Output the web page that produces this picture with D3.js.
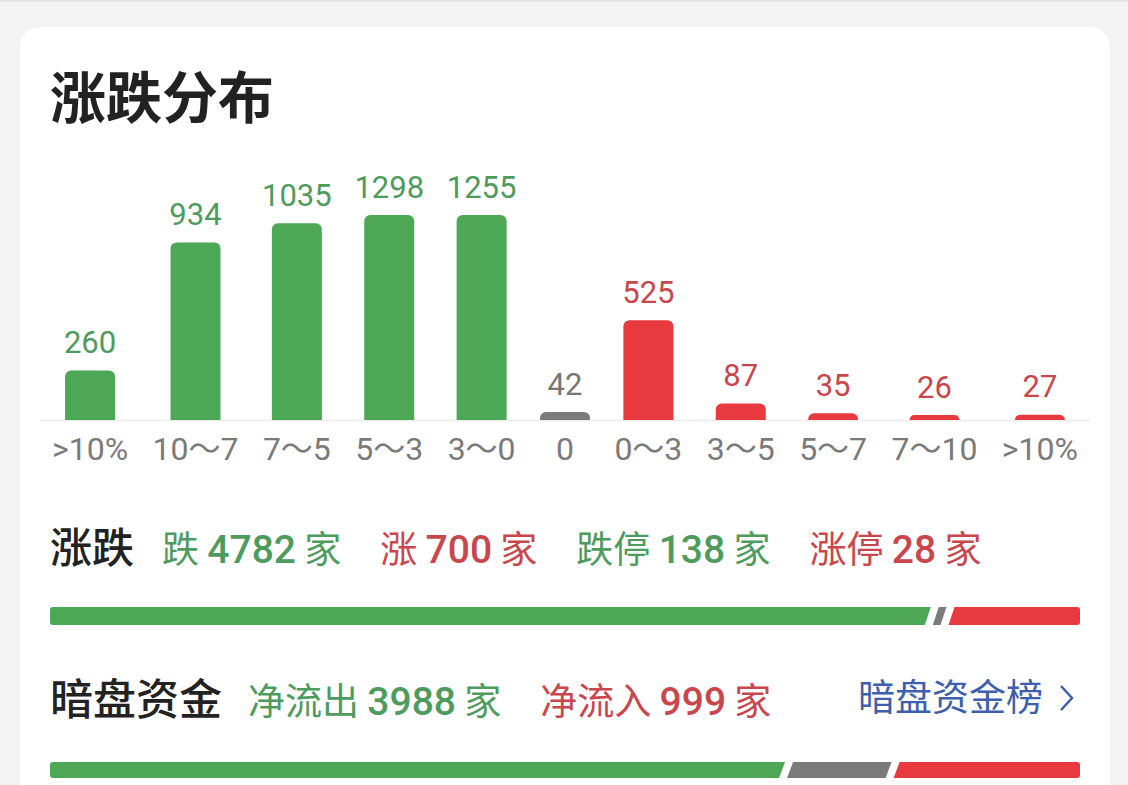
<!DOCTYPE html>
<html><head><meta charset="utf-8">
<script src="https://cdn.jsdelivr.net/npm/d3@7"></script>
<style>html,body{margin:0;padding:0;background:#f3f3f3;} svg{display:block;} text{white-space:pre;}</style>
</head><body>
<svg id="chart" width="1128" height="785"></svg>
<script>
// ---------------- data ----------------
const categories = [">10%", "10～7", "7～5", "5～3", "3～0", "0", "0～3", "3～5", "5～7", "7～10", ">10%"];
const counts = [260, 934, 1035, 1298, 1255, 42, 525, 87, 35, 26, 27];
const trend = ["down", "down", "down", "down", "down", "flat", "up", "up", "up", "up", "up"];

const breadthLabels = ["跌", "涨", "跌停", "涨停"];
const breadthValues = [4782, 700, 138, 28];
const breadthTrend = ["down", "up", "down", "up"];
const breadthBarValues = [4782, 42, 700];
const breadthBarTrend = ["down", "flat", "up"];

const darkPoolLabels = ["净流出", "净流入"];
const darkPoolValues = [3988, 999];
const darkPoolTrend = ["down", "up"];
const darkPoolBarValues = [3988, 537, 999];
const darkPoolBarTrend = ["down", "flat", "up"];

const titleText = "涨跌分布";
const rowTitles = ["涨跌", "暗盘资金"];
const linkText = "暗盘资金榜";
const unitText = "家";

// ---------------- style ----------------
const barColor = {down: "#4da855", flat: "#7b7b7b", up: "#e8393f"};
const textColor = {down: "#4e9b5e", flat: "#777777", up: "#c9464c"};
const FONT = "Roboto, 'Noto Sans CJK SC', sans-serif";
const CJK = "'Noto Sans CJK SC', sans-serif";

const svg = d3.select("#chart");

// background + card
svg.append("rect").attr("x", 0).attr("y", 0).attr("width", 1128).attr("height", 785).attr("fill", "#f3f3f3");
svg.append("rect").attr("x", 0).attr("y", 0).attr("width", 1128).attr("height", 2).attr("fill", "#e2e2e2");
svg.append("rect").attr("x", 20).attr("y", 27).attr("width", 1090).attr("height", 820).attr("rx", 20).attr("fill", "#ffffff");

// title
svg.append("text").attr("x", 50).attr("y", 118)
  .attr("font-family", CJK).attr("font-size", 56).attr("font-weight", 700)
  .attr("fill", "#222").text(titleText);

// ---------------- distribution bars ----------------
const baseY = 420, barW = 50, left = 52, right = 1078;
const y = d3.scaleLinear().domain([0, 1079]).range([baseY, 215]).clamp(true);

// category labels, measured to lay out like a space-between row
const labelG = svg.append("g");
const labels = labelG.selectAll("text").data(categories).join("text")
  .attr("y", 460).attr("text-anchor", "middle")
  .attr("font-family", FONT).attr("font-size", 32).attr("fill", "#7a7a7a")
  .text(d => d);
const widths = labels.nodes().map(n => Math.max(n.getComputedTextLength(), barW));
const gapL = (right - left - d3.sum(widths)) / (widths.length - 1);
const centers = [];
let cx = left;
widths.forEach(w => { centers.push(cx + w / 2); cx += w + gapL; });
const x = d3.scaleOrdinal().domain(d3.range(categories.length)).range(centers);
labels.attr("x", (d, i) => x(i));

// baseline
svg.append("line").attr("x1", 40).attr("x2", 1090).attr("y1", baseY + 0.5).attr("y2", baseY + 0.5)
  .attr("stroke", "#ececec").attr("stroke-width", 1.5);

function topRounded(x0, yTop, w, r) {
  const h = baseY - yTop;
  r = Math.min(r, h, w / 2);
  return `M${x0},${baseY} V${yTop + r} A${r},${r} 0 0 1 ${x0 + r},${yTop} H${x0 + w - r} A${r},${r} 0 0 1 ${x0 + w},${yTop + r} V${baseY} Z`;
}

svg.append("g").selectAll("path").data(counts).join("path")
  .attr("d", (d, i) => topRounded(x(i) - barW / 2, y(d), barW, 6))
  .attr("fill", (d, i) => barColor[trend[i]]);

svg.append("g").selectAll("text").data(counts).join("text")
  .attr("x", (d, i) => x(i)).attr("y", d => y(d) - 17.5)
  .attr("text-anchor", "middle")
  .attr("font-family", FONT).attr("font-size", 31).attr("font-weight", 400)
  .attr("fill", (d, i) => textColor[trend[i]])
  .text(d => d);

// ---------------- segmented bars ----------------
function segmentedBar(values, kinds, yTop, h, x0, x1, gap, slant, r) {
  const n = values.length;
  const total = d3.sum(values);
  const s = d3.scaleLinear().domain([0, total]).range([x0, x1 - gap * (n - 1)]);
  const cum = d3.cumsum(values);
  const g = svg.append("g");
  values.forEach((v, i) => {
    const start = s(i === 0 ? 0 : cum[i - 1]) + gap * i;
    const end = s(cum[i]) + gap * i;
    const yb = yTop + h;
    let p;
    if (i === 0) {
      p = `M${start + r},${yTop} L${end + slant / 2},${yTop} L${end - slant / 2},${yb} L${start + r},${yb} A${r},${r} 0 0 1 ${start},${yb - r} V${yTop + r} A${r},${r} 0 0 1 ${start + r},${yTop} Z`;
    } else if (i === n - 1) {
      p = `M${start + slant / 2},${yTop} L${end - r},${yTop} A${r},${r} 0 0 1 ${end},${yTop + r} V${yb - r} A${r},${r} 0 0 1 ${end - r},${yb} L${start - slant / 2},${yb} Z`;
    } else {
      p = `M${start + slant / 2},${yTop} L${end + slant / 2},${yTop} L${end - slant / 2},${yb} L${start - slant / 2},${yb} Z`;
    }
    g.append("path").attr("d", p).attr("fill", barColor[kinds[i]]);
  });
}

// ---------------- summary rows ----------------
function summaryRow(title, titleSize, baseline, startX, lbls, vals, kinds) {
  svg.append("text").attr("x", 50).attr("y", baseline)
    .attr("font-family", CJK).attr("font-size", titleSize).attr("font-weight", 500)
    .attr("fill", "#222").text(title);
  let px = startX;
  lbls.forEach((l, i) => {
    const t = svg.append("text").attr("x", px).attr("y", baseline)
      .attr("font-family", FONT).attr("fill", textColor[kinds[i]]);
    t.append("tspan").attr("font-family", CJK).attr("font-size", 37).text(l + " ");
    t.append("tspan").attr("font-size", 39).attr("font-weight", 500).text(vals[i]);
    t.append("tspan").attr("font-family", CJK).attr("font-size", 37).text(" " + unitText);
    px += t.node().getComputedTextLength() + 39;
  });
}

summaryRow(rowTitles[0], 42, 563, 162, breadthLabels, breadthValues, breadthTrend);
segmentedBar(breadthBarValues, breadthBarTrend, 607, 18, 50, 1080, 8, 6, 3);

summaryRow(rowTitles[1], 43, 715, 248, darkPoolLabels, darkPoolValues, darkPoolTrend);
segmentedBar(darkPoolBarValues, darkPoolBarTrend, 762, 16, 50, 1080, 8, 6, 3);

// link on the right
svg.append("text").attr("x", 1043).attr("y", 711).attr("text-anchor", "end")
  .attr("font-family", CJK).attr("font-size", 37).attr("fill", "#3d5fae").text(linkText);
svg.append("path").attr("d", "M1061,686 L1072,698 L1061,710")
  .attr("fill", "none").attr("stroke", "#3d5fae").attr("stroke-width", 2.5);
</script>
</body></html>
